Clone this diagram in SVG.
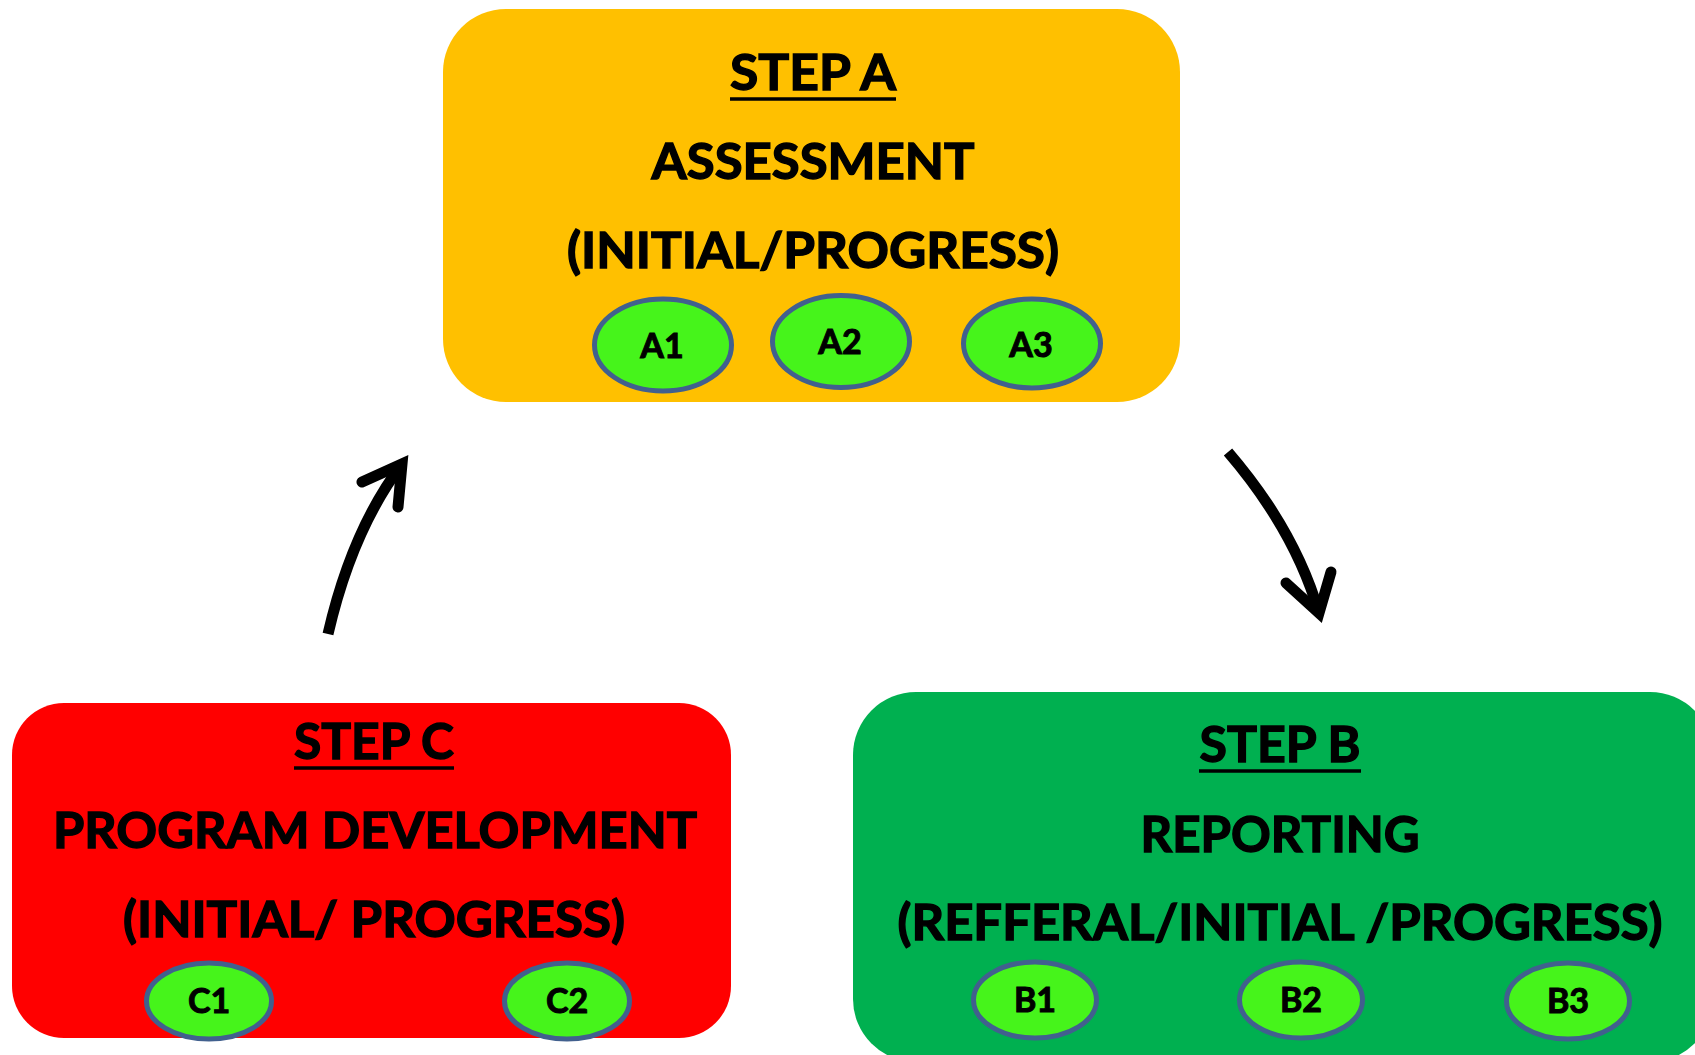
<svg xmlns="http://www.w3.org/2000/svg" width="1695" height="1055" viewBox="0 0 1695 1055">
<style>
.title{font-family:Lato,"Open Sans","Liberation Sans",sans-serif;font-weight:bold;font-size:50px;fill:#000;stroke:#000;stroke-width:1.4;text-anchor:middle}
.lbl{font-family:Lato,"Open Sans","Liberation Sans",sans-serif;font-weight:bold;font-size:34px;fill:#000;stroke:#000;stroke-width:1;text-anchor:middle}
.sub{fill:#46F41B;stroke:#41608E;stroke-width:5}
.ul{stroke:#000;stroke-width:3.5}
.arr{fill:none;stroke:#000;stroke-width:11}
.head{fill:none;stroke:#000;stroke-width:11;stroke-linecap:round;stroke-linejoin:miter}
</style>
<rect width="1695" height="1055" fill="#fff"/>
<g id="connectors">
<path class="arr" d="M328,634 Q352,530 402,464"/>
<path class="head" d="M362,482 L402,464 L398,507"/>
<path class="arr" d="M1228,452 Q1295,530 1319,613"/>
<path class="head" d="M1286,583 L1319,613 L1331,572"/>
</g>
<g id="stepA">
<rect x="443" y="9" width="737" height="393" rx="63" fill="#FFC000"/>
<text class="title" x="813" y="90" textLength="166" lengthAdjust="spacingAndGlyphs">STEP A</text>
<line class="ul" x1="730" y1="99" x2="896" y2="99"/>
<text class="title" x="813" y="179" textLength="323" lengthAdjust="spacingAndGlyphs">ASSESSMENT</text>
<text class="title" x="813" y="268" textLength="492" lengthAdjust="spacingAndGlyphs">(INITIAL/PROGRESS)</text>
</g>
<g id="A1"><ellipse class="sub" cx="663" cy="345" rx="68.5" ry="46"/><text class="lbl" x="662" y="358">A1</text></g>
<g id="A2"><ellipse class="sub" cx="841" cy="341.5" rx="68.5" ry="46"/><text class="lbl" x="840" y="354">A2</text></g>
<g id="A3"><ellipse class="sub" cx="1032" cy="343.5" rx="68.5" ry="44.5"/><text class="lbl" x="1031" y="357">A3</text></g>
<g id="stepC">
<rect x="12" y="703" width="719" height="335" rx="52" fill="#FF0000"/>
<text class="title" x="374" y="759" textLength="160" lengthAdjust="spacingAndGlyphs">STEP C</text>
<line class="ul" x1="294" y1="768" x2="454" y2="768"/>
<text class="title" x="375" y="848" textLength="644" lengthAdjust="spacingAndGlyphs">PROGRAM DEVELOPMENT</text>
<text class="title" x="374" y="937" textLength="502" lengthAdjust="spacingAndGlyphs">(INITIAL/ PROGRESS)</text>
</g>
<g id="C1"><ellipse class="sub" cx="209" cy="1001" rx="62.5" ry="38"/><text class="lbl" x="209" y="1013">C1</text></g>
<g id="C2"><ellipse class="sub" cx="567" cy="1001" rx="62.5" ry="38"/><text class="lbl" x="567" y="1013">C2</text></g>
<g id="stepB">
<rect x="853" y="692" width="860" height="370" rx="63" fill="#00B050"/>
<text class="title" x="1280" y="762" textLength="161" lengthAdjust="spacingAndGlyphs">STEP B</text>
<line class="ul" x1="1199" y1="771" x2="1361" y2="771"/>
<text class="title" x="1280" y="852" textLength="279" lengthAdjust="spacingAndGlyphs">REPORTING</text>
<text class="title" x="1280" y="940" textLength="765" lengthAdjust="spacingAndGlyphs">(REFFERAL/INITIAL /PROGRESS)</text>
</g>
<g id="B1"><ellipse class="sub" cx="1035" cy="1000" rx="61.5" ry="38"/><text class="lbl" x="1035" y="1012">B1</text></g>
<g id="B2"><ellipse class="sub" cx="1301" cy="1000" rx="61.5" ry="38"/><text class="lbl" x="1301" y="1012">B2</text></g>
<g id="B3"><ellipse class="sub" cx="1568" cy="1001" rx="61.5" ry="38"/><text class="lbl" x="1568" y="1013">B3</text></g>
</svg>
